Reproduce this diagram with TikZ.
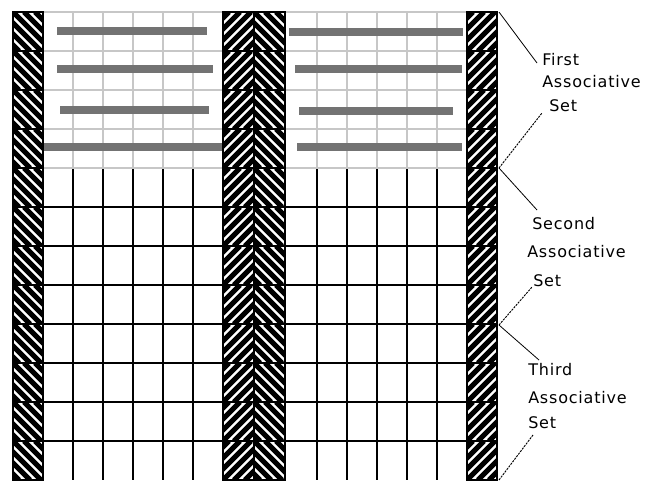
\documentclass[tikz,border=0pt]{standalone}
\usepackage{fontspec}
\setmainfont{DejaVu Sans}
\usetikzlibrary{calc}

\begin{document}
\begin{tikzpicture}[
    x=0.75pt, y=-0.75pt,
    lightgrid/.style={draw=black!22, line width=1.1pt},
    darkgrid/.style={draw=black, line width=1.1pt},
    stripe/.style={draw=black, line width=3.9pt},
    band/.style={draw=black!55, line width=5.5pt},
    leader/.style={draw=black, line width=0.6pt},
    upleader/.style={draw=black, line width=0.7pt, dash pattern=on 1.6pt off 0.8pt},
    setlabel/.style={anchor=north west, inner sep=0pt, align=left,
        font=\fontsize{12}{14.4}\selectfont\addfontfeature{LetterSpace=5}}
]
\useasboundingbox (0,0) rectangle (654,480);

% Grids
\foreach \x in {43,73,103,133,163,193,223, 285,317,347,377,407,437,467} {
  \draw[lightgrid] (\x,12) -- (\x,168);
  \draw[darkgrid] (\x,168) -- (\x,480);
}
\foreach \xa/\xb in {43/223, 285/467} {
  \foreach \y in {12,51,90,129,168}
    \draw[lightgrid] (\xa,\y) -- (\xb,\y);
  \foreach \y in {207,246,...,441}
    \draw[darkgrid] (\xa,\y) -- (\xb,\y);
}

% Gray bands
\foreach \xa/\xb/\y in {57/207/31, 57/213/69, 60/209/110, 43/222/147,
                        289/463/32, 295/462/69, 299/453/111, 297/462/147}
  \draw[band] (\xa,\y) -- (\xb,\y);

% Hatched columns
\foreach \xl/\xr/\dir in {13/43/1, 223/254/-1, 254/285/1, 467/497/-1} {
  \foreach \r in {0,...,11} {
    \begin{scope}
      \clip (\xl,12+39*\r) rectangle (\xr,51+39*\r);
      \foreach \s in {-44,-33,...,33}
        \draw[stripe] (\xl+\s,{12+39*\r+19.5*(1-\dir)}) -- ++(39,39*\dir);
    \end{scope}
    \draw[darkgrid] (\xl,12+39*\r) rectangle (\xr,51+39*\r);
  }
}

% Labels
\node[setlabel] (first) at (542,53)
  {First\\[2.1pt]Associative\\[3.6pt]\hspace{5.25pt}Set};
\node[setlabel] (second) at (527,217)
  {\hspace{3.75pt}Second\\[6.6pt]Associative\\[7.3pt]\hspace{4.5pt}Set};
\node[setlabel] (third) at (528,363)
  {Third\\[6.6pt]Associative\\[4.3pt]Set};

\coordinate (edge0) at (499,12);
\coordinate (edge1) at (499,168);
\coordinate (edge2) at (499,325);
\coordinate (edge3) at (499,480);

% Leaders
\draw[leader] (edge0) -- ($(first.north west)+(-5,10)$);
\draw[upleader] (edge1) -- ($(first.north west)+(0,60)$);
\draw[leader] (edge1) -- ($(second.north west)+(10,-7)$);
\draw[upleader] (edge2) -- ($(second.north west)+(5,70)$);
\draw[leader] (edge2) -- ($(third.north west)+(11,-3)$);
\draw[upleader] (edge3) -- ($(third.north west)+(5,72)$);

\end{tikzpicture}
\end{document}
